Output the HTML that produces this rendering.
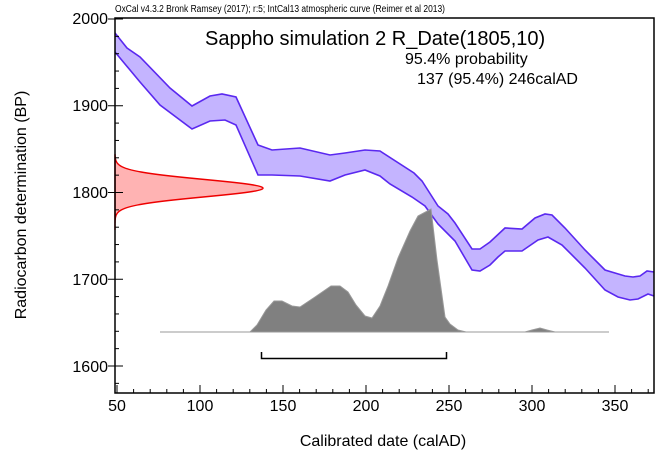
<!DOCTYPE html>
<html><head><meta charset="utf-8"><style>
html,body{margin:0;padding:0;background:#fff;}
svg{display:block;font-family:"Liberation Sans",Arial,sans-serif;}
</style></head><body>
<svg width="667" height="462" viewBox="0 0 667 462" xmlns="http://www.w3.org/2000/svg">
<text x="115" y="12" font-size="10" fill="#000" textLength="330" lengthAdjust="spacingAndGlyphs">OxCal v4.3.2 Bronk Ramsey (2017); r:5; IntCal13 atmospheric curve (Reimer et al 2013)</text>
<!-- calibration band -->
<path d="M115,33 L127,48 L140,57 L170,88 L192,106 L210,96 L222,94 L236,97 L258,145 L272,150 L300,148 L330,155 L345,153 L365,150 L380,151 L414,173 L422,181 L438,206 L448,214 L455,223 L472,249 L480,249 L490,242 L505,228 L522,229 L535,218 L545,214 L552,215 L565,228 L585,250 L605,270 L625,276 L633,277 L640,276 L647,271 L654,272 L654,296 L648,294 L638,299 L630,300 L618,297 L605,290 L585,268 L562,245 L548,237 L538,240 L522,251 L505,251 L498,257 L490,265 L480,271 L472,270 L455,241 L438,224 L425,206 L412,197 L390,184 L380,176 L365,170 L345,175 L330,181 L300,176 L272,175 L258,175 L236,125 L225,120 L210,121 L192,129 L160,105 L140,82 L115,52 Z" fill="#c4b4ff" stroke="none"/>
<path d="M115,33 L127,48 L140,57 L170,88 L192,106 L210,96 L222,94 L236,97 L258,145 L272,150 L300,148 L330,155 L345,153 L365,150 L380,151 L414,173 L422,181 L438,206 L448,214 L455,223 L472,249 L480,249 L490,242 L505,228 L522,229 L535,218 L545,214 L552,215 L565,228 L585,250 L605,270 L625,276 L633,277 L640,276 L647,271 L654,272" fill="none" stroke="#5a28f0" stroke-width="1.6"/>
<path d="M115,52 L140,82 L160,105 L192,129 L210,121 L225,120 L236,125 L258,175 L272,175 L300,176 L330,181 L345,175 L365,170 L380,176 L390,184 L412,197 L425,206 L438,224 L455,241 L472,270 L480,271 L490,265 L498,257 L505,251 L522,251 L538,240 L548,237 L562,245 L585,268 L605,290 L618,297 L630,300 L638,299 L648,294 L654,296" fill="none" stroke="#5a28f0" stroke-width="1.6"/>
<!-- histogram -->
<path d="M160,332 L250,332 L257,325 L266,310 L274,301 L282,301 L292,306 L300,307 L315,297 L331,286 L340,286 L348,292 L356,305 L365,316 L372,318 L380,306 L388,286 L398,258 L410,231 L418,216 L431,209 L437,260 L445,317 L450,324 L458,330 L466,332 L525,332 L532,330 L540,328 L547,330 L555,332 L609,332 Z" fill="#808080" stroke="#999" stroke-width="1"/>
<!-- red distribution -->
<path id="red" d="" fill="#ffb3b3" stroke="#ee0000" stroke-width="1.4"/>
<!-- bracket -->
<path d="M261.5,352 V358.5 H446.5 V352" fill="none" stroke="#000" stroke-width="1.5"/>
<!-- frame -->
<rect x="115" y="18" width="539" height="375" fill="none" stroke="#000" stroke-width="1.5"/>
<g id="ticks" stroke="#000" stroke-width="1"></g>
<g font-size="16" fill="#000" text-anchor="end">
<text x="108" y="24">2000</text><text x="108" y="111">1900</text><text x="108" y="198">1800</text><text x="108" y="285">1700</text><text x="108" y="372">1600</text>
</g>
<g font-size="16" fill="#000" text-anchor="middle">
<text x="117" y="411">50</text><text x="200" y="411">100</text><text x="283" y="411">150</text><text x="366" y="411">200</text><text x="449" y="411">250</text><text x="532" y="411">300</text><text x="615" y="411">350</text>
</g>
<text x="383" y="446" font-size="16" text-anchor="middle">Calibrated date (calAD)</text>
<text transform="translate(26,205) rotate(-90)" font-size="16" text-anchor="middle">Radiocarbon determination (BP)</text>
<text x="205" y="45" font-size="20">Sappho simulation 2 R_Date(1805,10)</text>
<text x="405" y="64" font-size="16">95.4% probability</text>
<text x="417" y="84" font-size="16">137 (95.4%) 246calAD</text>
</svg>
<script>
(function(){
var ns="http://www.w3.org/2000/svg",g=document.getElementById("ticks");
function ln(x1,y1,x2,y2){var l=document.createElementNS(ns,"line");l.setAttribute("x1",x1);l.setAttribute("y1",y1);l.setAttribute("x2",x2);l.setAttribute("y2",y2);g.appendChild(l);}
for(var yr=50;yr<=370;yr+=10){var x=117+(yr-50)*1.66;var maj=yr%50==0;ln(x,393,x,393-(maj?8:4));}
for(var bp=1580;bp<=2000;bp+=20){var y=366-(bp-1600)*0.8675;var maj=bp%100==0;ln(115,y,115+(maj?8:4),y);if(maj)ln(108,y,115,y);}
var d="M115,155";var pts=[];
for(var y=155;y<=230;y+=0.5){var bp=1600+(366-y)/0.8675;var v=Math.exp(-0.5*Math.pow((bp-1805)/10,2));pts.push((115+148*v).toFixed(1)+","+y);}
document.getElementById("red").setAttribute("d","M115,155 L"+pts.join(" L")+" L115,230 Z");
})();
</script>
</body></html>
